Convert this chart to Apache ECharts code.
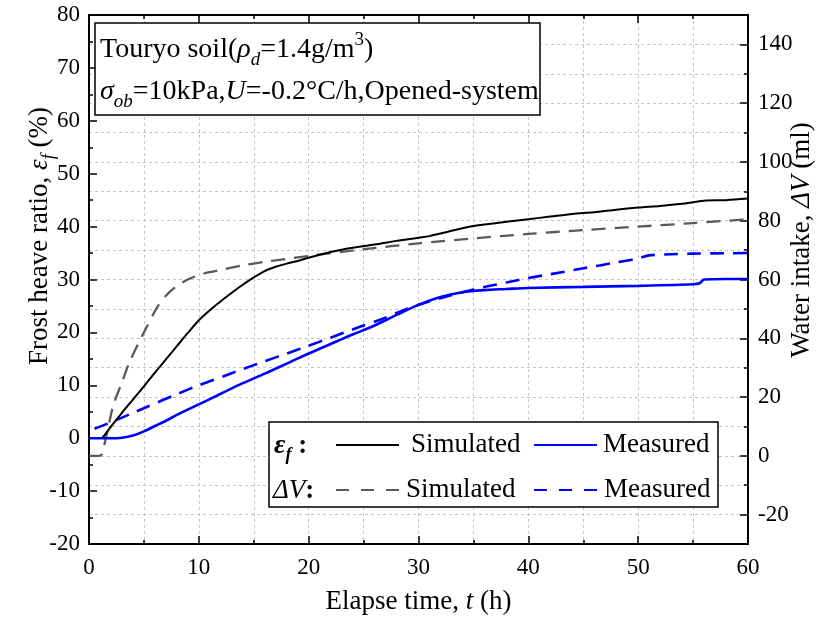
<!DOCTYPE html>
<html><head><meta charset="utf-8">
<script src="https://cdn.jsdelivr.net/npm/echarts@6/dist/echarts.min.js"></script>
<style>html,body{margin:0;padding:0;background:#fff}#c{width:832px;height:625px}</style>
</head><body><div id="c"></div>
<script>
const FONT = 'Liberation Serif';
// axis settings / tick labels
const xMin = 0, xMax = 60, xInterval = 10;
const leftMin = -20, leftMax = 80, leftInterval = 10;
const rightMin = -30, rightMax = 150, rightGridInterval = 10;
const rightTickValues = [-20, 0, 20, 40, 60, 80, 100, 120, 140];

// Frost heave ratio, simulated (left axis, %)
const tStrainSim = [1.2, 2, 3, 4, 5, 6, 7, 8, 9, 10, 11, 12, 13, 14, 15, 16, 17, 18, 19, 20, 22, 24, 26, 28, 30, 31, 32, 33, 34, 35, 36, 38, 40, 42, 44, 46, 48, 50, 52, 54, 55, 56, 58, 60];
const strainSim = [0.0, 2.2, 4.8, 7.3, 9.8, 12.4, 14.9, 17.4, 19.9, 22.3, 24.2, 25.9, 27.5, 29.0, 30.4, 31.6, 32.4, 33.0, 33.5, 34.1, 35.2, 36.0, 36.6, 37.3, 37.9, 38.2, 38.7, 39.2, 39.7, 40.1, 40.4, 40.9, 41.4, 41.9, 42.4, 42.7, 43.2, 43.6, 43.9, 44.3, 44.6, 44.9, 45.0, 45.3];

// Frost heave ratio, measured (left axis, %)
const tStrainMea = [0, 1, 2, 3, 4, 5, 6, 7, 8, 10, 12, 14, 16, 18, 20, 22, 24, 26, 28, 30, 32, 34, 36, 38, 40, 45, 50, 55, 55.6, 56, 58, 60];
const strainMea = [0, 0, 0, 0.1, 0.5, 1.3, 2.3, 3.3, 4.4, 6.4, 8.4, 10.4, 12.2, 14.1, 16.0, 17.8, 19.6, 21.3, 23.3, 25.2, 26.7, 27.6, 28.0, 28.2, 28.4, 28.6, 28.8, 29.1, 29.3, 30.0, 30.1, 30.1];

// Water intake, simulated (right axis, ml)
const tWaterSim = [0, 1.0, 1.5, 2.2, 3, 3.7, 4.8, 6.2, 7, 8, 9, 10, 11, 12, 14, 16, 18, 20, 25, 30, 35, 40, 45, 50, 55, 60];
const waterSim = [0, 0, 5.5, 17, 25, 32, 40.5, 50.5, 54.5, 57.8, 60, 61.5, 62.5, 63.3, 64.8, 66, 67, 68, 70.3, 72.3, 74, 75.5, 76.8, 78, 79.2, 80.5];

// Water intake, measured (right axis, ml)
const tWaterMea = [0.5, 2, 4, 5.25, 8, 10, 12.2, 14, 16, 18, 19.8, 22, 24, 26.5, 28, 30, 32, 35, 38, 40, 42, 45, 48, 50, 51, 53, 55, 57, 60];
const waterMea = [9.2, 11.4, 14.6, 16.6, 21, 24, 27, 29.5, 32.2, 34.8, 37.2, 40.2, 43, 46.3, 48.6, 51.4, 53.6, 56.6, 59, 60.5, 61.8, 63.8, 65.8, 67.2, 68.2, 68.6, 68.8, 68.9, 69];

const zip = (a, b) => a.map((t, i) => [t, b[i]]);

const chart = echarts.init(document.getElementById('c'), null, {renderer: 'canvas'});

const gridLine = {show: true, lineStyle: {color: '#c4c4c4', type: [3, 3], width: 1}};
const labelStyle = {fontFamily: FONT, fontSize: 23, color: '#000'};
const axisLineStyle = {show: true, onZero: false, lineStyle: {color: '#000', width: 2}};
const tickStyle = {color: '#000', width: 1.5};

const richBase = {
  i: {fontFamily: FONT, fontSize: 27, fontStyle: 'italic', lineHeight: 36, fill: '#000', color: '#000'},
  s: {fontFamily: FONT, fontSize: 18, fontStyle: 'italic', lineHeight: 18, verticalAlign: 'bottom', fill: '#000', color: '#000'},
  p: {fontFamily: FONT, fontSize: 18, lineHeight: 18, verticalAlign: 'top', fill: '#000', color: '#000'},
  b: {fontFamily: FONT, fontSize: 28, fontStyle: 'italic', fontWeight: 'bold', lineHeight: 36, fill: '#000'},
  bs: {fontFamily: FONT, fontSize: 18, fontStyle: 'italic', fontWeight: 'bold', lineHeight: 18, verticalAlign: 'bottom', fill: '#000'},
  n: {fontFamily: FONT, fontSize: 27, fontWeight: 'bold', lineHeight: 36, fill: '#000'}
};
const richBox = {
  i: {fontFamily: FONT, fontSize: 28, fontStyle: 'italic', lineHeight: 38, fill: '#000'},
  s: {fontFamily: FONT, fontSize: 19, fontStyle: 'italic', lineHeight: 19, verticalAlign: 'bottom', fill: '#000'},
  p: {fontFamily: FONT, fontSize: 19, lineHeight: 19, verticalAlign: 'top', fill: '#000'}
};
function textEl(text, x, y, opts) {
  opts = opts || {};
  const el = {
    type: 'text', x: x, y: y, z: 10,
    style: {text: text, fontFamily: FONT, fontSize: opts.fontSize || 27, lineHeight: opts.lineHeight || 36, fill: '#000',
      align: opts.align || 'left', verticalAlign: 'middle', rich: opts.rich || richBase}
  };
  if (opts.rotation) el.rotation = opts.rotation;
  return el;
}

function mkLegend(name, left, top, padLeft, dashed) {
  const lg = {
    orient: 'horizontal', padding: 0, itemWidth: 63, itemHeight: 14, selectedMode: false,
    formatter: n => n.split(' ')[1], z: 6,
    data: [name], left: left, top: top,
    itemStyle: {opacity: 0},
    textStyle: {fontFamily: FONT, fontSize: 27, color: '#000', lineHeight: 30, padding: [0, 0, 0, padLeft]}
  };
  if (dashed) lg.lineStyle = {type: [13, 12]};
  return lg;
}

const option = {
  backgroundColor: '#fff',
  animation: false,
  grid: {left: 89, right: 84, top: 15, bottom: 81},
  xAxis: [{
    type: 'value', min: xMin, max: xMax, interval: xInterval, position: 'bottom',
    axisLine: axisLineStyle,
    axisTick: {inside: true, length: 8, lineStyle: tickStyle},
    minorTick: {show: true, splitNumber: 2, length: 4, lineStyle: tickStyle},
    axisLabel: Object.assign({margin: 12}, labelStyle),
    splitLine: gridLine, minorSplitLine: gridLine,
    name: 'Elapse time, {i|t} (h)', nameLocation: 'middle', nameGap: 40,
    nameTextStyle: {fontFamily: FONT, fontSize: 27, color: '#000', lineHeight: 36, rich: richBase}
  }, {
    type: 'value', min: xMin, max: xMax, interval: xInterval, position: 'top',
    axisLine: axisLineStyle,
    axisTick: {inside: true, length: 8, lineStyle: tickStyle},
    minorTick: {show: true, splitNumber: 2, length: 4, lineStyle: tickStyle},
    axisLabel: {show: false}, splitLine: {show: false}
  }],
  yAxis: [{
    type: 'value', min: leftMin, max: leftMax, interval: leftInterval, position: 'left',
    axisLine: axisLineStyle,
    axisTick: {inside: true, length: 8, lineStyle: tickStyle},
    minorTick: {show: true, splitNumber: 2, length: 4, lineStyle: tickStyle},
    axisLabel: Object.assign({margin: 9}, labelStyle),
    splitLine: {show: false}
  }, {
    type: 'value', min: rightMin, max: rightMax, interval: rightGridInterval, position: 'right',
    axisLine: axisLineStyle,
    axisTick: {inside: true, length: 8, lineStyle: tickStyle, customValues: rightTickValues},
    axisLabel: Object.assign({margin: 10, customValues: rightTickValues}, labelStyle),
    splitLine: {show: false}
  }, {
    type: 'value', min: rightMin, max: rightMax, interval: rightGridInterval, position: 'right',
    axisLine: {show: false, onZero: false},
    axisTick: {inside: true, length: 4, lineStyle: tickStyle},
    axisLabel: {show: false},
    splitLine: gridLine
  }],
  legend: [
    mkLegend('εf Simulated', 335, 430, 7, false),
    mkLegend('εf Measured', 533, 430, 1, false),
    mkLegend('ΔV Simulated', 335, 475, 2, true),
    mkLegend('ΔV Measured', 533, 475, 2, true)
  ],
  series: [
    {name: 'ΔV Simulated', type: 'line', xAxisIndex: 0, yAxisIndex: 1, data: zip(tWaterSim, waterSim),
      symbol: 'none', smooth: 0.3, lineStyle: {color: '#5a5a5a', width: 2.3, type: [14, 9]}, itemStyle: {color: '#5a5a5a'}},
    {name: 'ΔV Measured', type: 'line', xAxisIndex: 0, yAxisIndex: 1, data: zip(tWaterMea, waterMea),
      symbol: 'none', smooth: 0.3, lineStyle: {color: '#0000ff', width: 2.6, type: [14, 9]}, itemStyle: {color: '#0000ff'}},
    {name: 'εf Measured', type: 'line', xAxisIndex: 0, yAxisIndex: 0, data: zip(tStrainMea, strainMea),
      symbol: 'none', smooth: 0.3, lineStyle: {color: '#0000ff', width: 2.6}, itemStyle: {color: '#0000ff'}},
    {name: 'εf Simulated', type: 'line', xAxisIndex: 0, yAxisIndex: 0, data: zip(tStrainSim, strainSim),
      symbol: 'none', smooth: 0.3, lineStyle: {color: '#000', width: 2}, itemStyle: {color: '#000'}}
  ],
  graphic: [
    {type: 'rect', z: 5, shape: {x: 95, y: 23, width: 445, height: 92}, style: {fill: '#fff', stroke: '#000', lineWidth: 1.5}},
    textEl('Touryo soil({i|ρ}{s|d}=1.4g/m{p|3})', 100, 50, {fontSize: 28, lineHeight: 38, rich: richBox}),
    textEl('{i|σ}{s|ob}=10kPa,{i|U}=-0.2°C/h,Opened-system', 100, 92, {fontSize: 28, lineHeight: 38, rich: richBox}),
    {type: 'rect', z: 5, shape: {x: 269, y: 422, width: 449, height: 85}, style: {fill: '#fff', stroke: '#000', lineWidth: 1.5}},
    textEl('{b|ε}{bs|f}{n| :}', 274, 446),
    textEl('{i|ΔV}{n|:}', 273, 491),
    textEl('Frost heave ratio, {i|ε}{s|f} (%)', 40, 236, {align: 'center', rotation: Math.PI / 2}),
    textEl('Water intake, {i|ΔV} (ml)', 802, 240, {align: 'center', rotation: Math.PI / 2})
  ]
};
chart.setOption(option);
</script>
</body></html>
